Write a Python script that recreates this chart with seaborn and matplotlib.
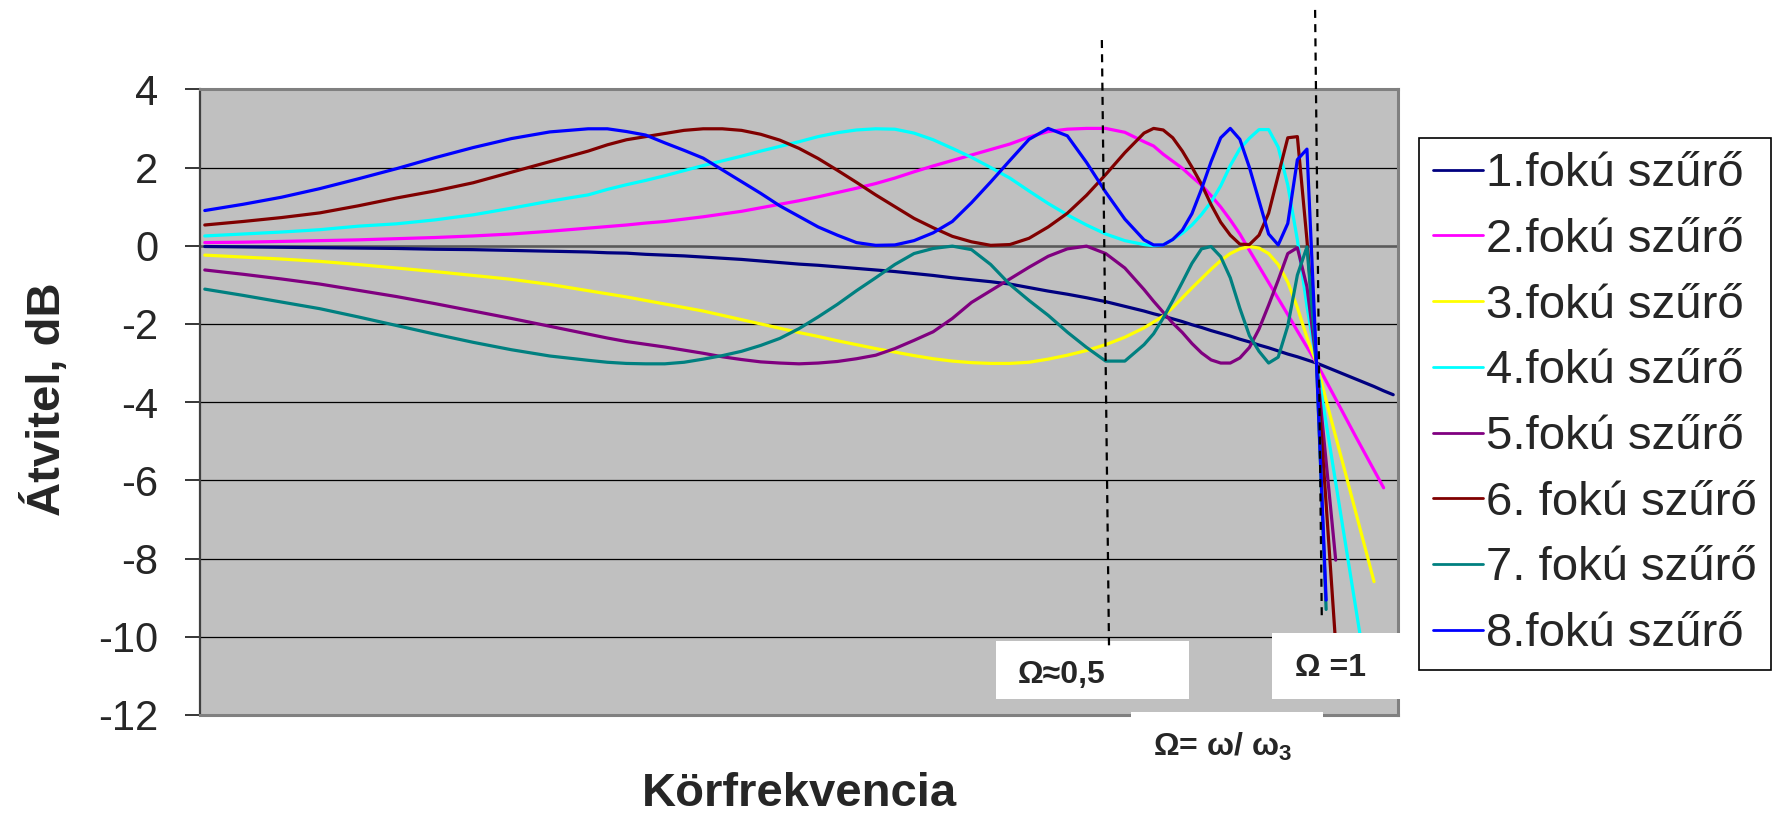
import numpy as np
import matplotlib
matplotlib.use("Agg")
import matplotlib.pyplot as plt
import seaborn as sns
from matplotlib.lines import Line2D
from matplotlib.patches import Rectangle

nan = np.nan

# Sample index along the normalised frequency axis (Omega = 1 falls on index 116)
freq_idx = ([0, 4, 8, 12, 16, 20, 24, 28, 32, 36, 40]
            + list(range(42, 99, 2))
            + list(range(99, 125)))

# Transfer in dB for Chebyshev low-pass filters of order 1..8
order1_db = [-0.02, -0.03, -0.04, -0.05, -0.06, -0.07, -0.09, -0.10, -0.12, -0.14, -0.16,
             -0.18, -0.19, -0.22, -0.24, -0.26, -0.29, -0.32, -0.35, -0.39, -0.43, -0.47, -0.50,
             -0.54, -0.58, -0.62, -0.66, -0.71, -0.76, -0.82, -0.87, -0.92, -0.98, -1.07, -1.16,
             -1.24, -1.33, -1.43, -1.55, -1.67,
             -1.74, -1.80, -1.87, -1.94, -2.02, -2.09, -2.17, -2.24, -2.31, -2.39, -2.46, -2.54,
             -2.61, -2.69, -2.77, -2.84, -2.92, -3.00, -3.10, -3.20, -3.30, -3.40, -3.50, -3.60,
             -3.71, -3.81]
order2_db = [0.08, 0.09, 0.11, 0.13, 0.15, 0.18, 0.21, 0.25, 0.30, 0.37, 0.45,
             0.49, 0.53, 0.58, 0.62, 0.68, 0.74, 0.81, 0.88, 0.97, 1.06, 1.15, 1.25, 1.36, 1.47,
             1.59, 1.73, 1.89, 2.04, 2.18, 2.32, 2.46, 2.60, 2.78, 2.92, 2.98, 3.00, 3.00, 2.90,
             2.66,
             2.55, 2.34, 2.16, 1.98, 1.76, 1.55, 1.28, 0.99, 0.66, 0.30, -0.12, -0.53, -0.94,
             -1.35, -1.76, -2.18, -2.59, -3.00, -3.46, -3.92, -4.38, -4.84, -5.29, -5.74, -6.19,
             nan]
order3_db = [-0.24, -0.29, -0.34, -0.40, -0.48, -0.57, -0.66, -0.76, -0.86, -0.99, -1.15,
             -1.23, -1.31, -1.40, -1.49, -1.58, -1.67, -1.78, -1.89, -2.00, -2.11, -2.22, -2.32,
             -2.43, -2.53, -2.63, -2.72, -2.81, -2.89, -2.95, -2.99, -3.01, -3.01, -2.98, -2.90,
             -2.80, -2.68, -2.53, -2.34, -2.10,
             -1.95, -1.80, -1.58, -1.33, -1.08, -0.84, -0.60, -0.38, -0.20, -0.08, -0.02, -0.06,
             -0.20, -0.48, -0.93, -1.58, -2.35, -3.00, -3.95, -4.88, -5.80, -6.73, -7.66, -8.59,
             nan, nan]
order4_db = [0.25, 0.30, 0.35, 0.41, 0.50, 0.56, 0.66, 0.79, 0.96, 1.14, 1.30,
             1.44, 1.56, 1.67, 1.79, 1.92, 2.05, 2.17, 2.29, 2.42, 2.54, 2.66, 2.79, 2.89, 2.96,
             2.99, 2.98, 2.88, 2.71, 2.49, 2.26, 2.00, 1.73, 1.40, 1.08, 0.79, 0.53, 0.30, 0.13,
             0.03,
             0.00, 0.02, 0.16, 0.32, 0.53, 0.80, 1.12, 1.53, 2.05, 2.48, 2.75, 2.97, 2.97, 2.52,
             1.55, 0.15, -1.55, -3.00, -4.53, -6.06, -7.59, -9.12, -10.65, nan, nan, nan]
order5_db = [-0.62, -0.73, -0.85, -0.98, -1.14, -1.30, -1.48, -1.67, -1.86, -2.06, -2.26,
             -2.36, -2.45, -2.52, -2.59, -2.67, -2.75, -2.84, -2.91, -2.97, -3.00, -3.02, -3.00,
             -2.96, -2.89, -2.80, -2.63, -2.42, -2.20, -1.86, -1.45, -1.15, -0.85, -0.55, -0.27,
             -0.08, -0.01, -0.20, -0.57, -1.12,
             -1.42, -1.70, -1.98, -2.22, -2.50, -2.74, -2.92, -3.00, -3.00, -2.87, -2.60, -2.13,
             -1.52, -0.88, -0.20, -0.05, -1.05, -3.00, -5.52, -8.04,
             nan, nan, nan, nan, nan, nan]
order6_db = [0.53, 0.62, 0.72, 0.84, 1.02, 1.22, 1.40, 1.61, 1.88, 2.15, 2.42,
             2.58, 2.71, 2.79, 2.87, 2.95, 2.99, 2.99, 2.95, 2.85, 2.70, 2.49, 2.23, 1.93, 1.62,
             1.30, 1.00, 0.70, 0.46, 0.24, 0.10, 0.01, 0.03, 0.19, 0.48, 0.83, 1.29, 1.82, 2.38,
             2.88,
             3.00, 2.96, 2.76, 2.42, 2.01, 1.57, 1.05, 0.60, 0.27, 0.04, 0.03, 0.27, 0.83, 1.80,
             2.76, 2.79, 0.15, -3.00, -6.60, -10.20,
             nan, nan, nan, nan, nan, nan]
order7_db = [-1.11, -1.27, -1.44, -1.61, -1.82, -2.04, -2.26, -2.47, -2.66, -2.82, -2.93,
             -2.98, -3.01, -3.02, -3.02, -2.98, -2.90, -2.81, -2.70, -2.55, -2.37, -2.12, -1.82,
             -1.50, -1.15, -0.82, -0.48, -0.20, -0.07, -0.01, -0.10, -0.48, -0.99, -1.40, -1.78,
             -2.21, -2.60, -2.95, -2.95, -2.53,
             -2.25, -1.85, -1.40, -0.93, -0.45, -0.08, -0.02, -0.28, -0.82, -1.60, -2.30, -2.70,
             -3.00, -2.85, -2.05, -0.75, -0.03, -3.00, -9.30,
             nan, nan, nan, nan, nan, nan, nan]
order8_db = [0.90, 1.06, 1.24, 1.46, 1.71, 1.97, 2.25, 2.51, 2.74, 2.91, 2.99,
             2.99, 2.92, 2.83, 2.63, 2.44, 2.24, 1.94, 1.64, 1.34, 1.02, 0.75, 0.48, 0.27, 0.08,
             0.01, 0.02, 0.13, 0.33, 0.62, 1.10, 1.63, 2.18, 2.72, 3.00, 2.81, 2.13, 1.37, 0.68,
             0.15,
             0.02, 0.02, 0.16, 0.40, 0.82, 1.45, 2.15, 2.76, 3.00, 2.72, 2.00, 1.15, 0.30, 0.02,
             0.57, 2.20, 2.47, -3.00, -9.06,
             nan, nan, nan, nan, nan, nan, nan]

series_db = [order1_db, order2_db, order3_db, order4_db,
             order5_db, order6_db, order7_db, order8_db]
series_labels = ["1.fokú szűrő", "2.fokú szűrő", "3.fokú szűrő", "4.fokú szűrő",
                 "5.fokú szűrő", "6. fokú szűrő", "7. fokú szűrő", "8.fokú szűrő"]
series_colors = ["#000080", "#FF00FF", "#FFFF00", "#00FFFF",
                 "#800080", "#800000", "#008080", "#0000FF"]
y_ticks = [-12, -10, -8, -6, -4, -2, 0, 2, 4]

# Guide lines: (index, dB) of the top and bottom end of each dashed marker
omega_half_line = ([93.6, 94.35], [5.26, -10.31])
omega_one_line = ([115.85, 116.55], [6.03, -9.57])

sns.set_style("white")
plt.rcParams["font.family"] = ["Liberation Sans", "DejaVu Sans"]
plt.rcParams["mathtext.fontset"] = "custom"
plt.rcParams["mathtext.rm"] = "Liberation Sans"
plt.rcParams["mathtext.bf"] = "Liberation Sans:bold"

W, H = 1787, 816
fig = plt.figure(figsize=(W / 100, H / 100), dpi=100)
fig.patch.set_facecolor("white")


def fx(px):
    return px / W


def fy(py):
    return 1 - py / H


ax = fig.add_axes([fx(200), fy(715), fx(1398) - fx(200), fy(89.3) - fy(715)])
ax.set_facecolor("#C0C0C0")

handles = []
for vals, lab, col in zip(series_db, series_labels, series_colors):
    sns.lineplot(x=freq_idx, y=vals, color=col, lw=2.3, ax=ax, legend=False, zorder=3)
    line = ax.lines[-1]
    line.set_label(lab)
    line.set_solid_joinstyle("round")
    handles.append(line)

ax.set_xlim(-0.5, 124.5)
ax.set_ylim(-12, 4)
ax.set_yticks(y_ticks)
ax.set_yticklabels([str(t) for t in y_ticks])
ax.set_xticks([])
ax.grid(axis="y", color="black", lw=0.9)
ax.set_axisbelow(True)
ax.axhline(0, color="#5a5a5a", lw=1.8, zorder=1.5)

for side in ["top", "right", "bottom"]:
    ax.spines[side].set_color("#808080")
    ax.spines[side].set_linewidth(2.2)
ax.spines["left"].set_color("#404040")
ax.spines["left"].set_linewidth(1.6)

ax.tick_params(axis="y", labelsize=30, length=11, width=1.1, pad=19,
               color="black", direction="out", left=True)

ax.set_ylabel("Átvitel, dB", fontsize=34, weight="bold")
ax.yaxis.label.set_rotation_mode("anchor")
ax.yaxis.label.set_va("baseline")
ax.yaxis.set_label_coords((60 - 200) / 1198, 0.505)

ax.set_xlabel("Körfrekvencia", fontsize=34, weight="bold")
ax.xaxis.label.set_va("baseline")
ax.xaxis.set_label_coords(0.5, (715 - 806) / 625.7)

leg = ax.legend(handles=handles, labels=series_labels, loc="upper left",
                bbox_to_anchor=(fx(1419), fy(138)), bbox_transform=fig.transFigure,
                frameon=True, fancybox=False, edgecolor="black", framealpha=1,
                facecolor="white", fontsize=34, handlelength=1.05, handletextpad=0.06,
                borderpad=0.3, labelspacing=0.46, borderaxespad=0)
leg.get_frame().set_linewidth(1.2)
for lh in leg.get_lines():
    lh.set_linewidth(2.0)

# White label boxes
for (x0, y0, x1, y1) in [(996, 641, 1189, 699), (1272, 633, 1401, 699), (1131, 712, 1323, 790)]:
    fig.patches.append(Rectangle((fx(x0), fy(y1)), fx(x1) - fx(x0), fy(y0) - fy(y1),
                                 transform=fig.transFigure, facecolor="white",
                                 edgecolor="none", zorder=2))

# Dashed markers at Omega ~ 0.5 and Omega = 1
for xs, ys in [omega_half_line, omega_one_line]:
    fig.add_artist(Line2D(xs, ys, transform=ax.transData, color="black", lw=1.6,
                          linestyle=(0, (3.6, 2.8)), zorder=3))

fig.text(fx(1018), fy(683), "Ω≈0,5", fontsize=23, weight="bold", ha="left",
         va="baseline", zorder=4)
fig.text(fx(1295), fy(676), "Ω =1", fontsize=23, weight="bold", ha="left",
         va="baseline", zorder=4)
fig.text(fx(1153), fy(756), r"Ω= ω/ ω$_\mathbf{3}$", fontsize=23, weight="bold",
         ha="left", va="baseline", zorder=4)

fig.savefig("out.png", dpi=100)
